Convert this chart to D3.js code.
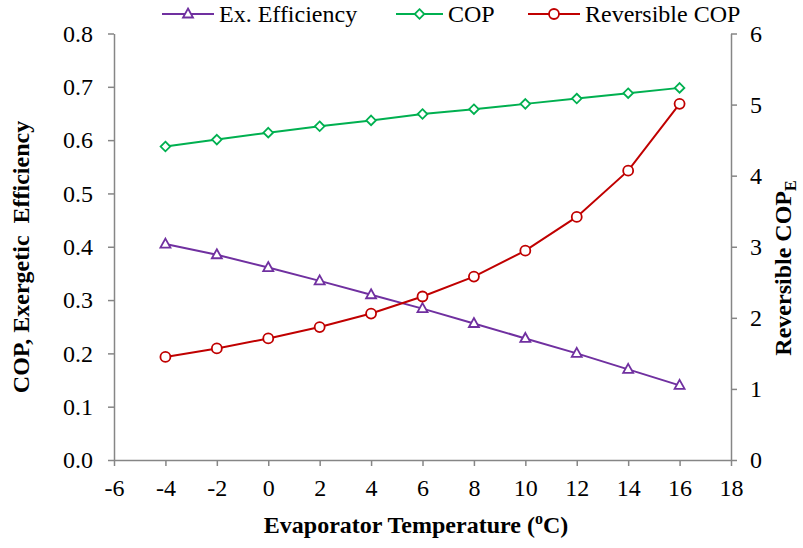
<!DOCTYPE html>
<html>
<head>
<meta charset="utf-8">
<script src="https://cdn.jsdelivr.net/npm/d3@7/dist/d3.min.js"></script>
<style>
  body { margin: 0; background: #fff; }
</style>
</head>
<body>
<svg id="chart" width="803" height="548"></svg>
<script>
// Evaporator temperature (°C)
const temps = [-4, -2, 0, 2, 4, 6, 8, 10, 12, 14, 16];
// Series on the left axis
const exEfficiency = [0.405, 0.385, 0.361, 0.336, 0.310, 0.284, 0.256, 0.228, 0.200, 0.170, 0.140];
const cop = [0.588, 0.601, 0.614, 0.626, 0.637, 0.649, 0.658, 0.668, 0.678, 0.688, 0.698];
// Series on the right axis
const reversibleCop = [1.45, 1.57, 1.71, 1.87, 2.06, 2.30, 2.58, 2.945, 3.42, 4.07, 5.01];

const xTicks = [-6, -4, -2, 0, 2, 4, 6, 8, 10, 12, 14, 16, 18];
const yLeftTicks = [0, 0.1, 0.2, 0.3, 0.4, 0.5, 0.6, 0.7, 0.8];
const yRightTicks = [0, 1, 2, 3, 4, 5, 6];

const FONT = "Liberation Serif";
const FS = 24;
const svg = d3.select("#chart");
const plotLeft = 114, plotRight = 731, plotTop = 33.5, plotBottom = 460;
const axisColor = "#868686";

const x = d3.scaleLinear().domain([-6, 18]).range([plotLeft, plotRight]);
const yL = d3.scaleLinear().domain([0, 0.8]).range([plotBottom, plotTop]);
const yR = d3.scaleLinear().domain([0, 6]).range([plotBottom, plotTop]);

function styleAxis(g) {
  g.attr("font-family", FONT).attr("font-size", FS);
  g.select(".domain").attr("stroke", axisColor).attr("stroke-width", 1.5);
  g.selectAll(".tick line").attr("stroke", axisColor).attr("stroke-width", 1.5);
  g.selectAll(".tick text").attr("fill", "#000").attr("font-family", FONT);
}

svg.append("g")
  .attr("transform", `translate(0,${plotBottom})`)
  .call(d3.axisBottom(x).tickValues(xTicks).tickSize(6).tickSizeOuter(0).tickPadding(13).tickFormat(d => String(d)))
  .call(styleAxis);

svg.append("g")
  .attr("transform", `translate(${plotLeft},0)`)
  .call(d3.axisLeft(yL).tickValues(yLeftTicks).tickSize(6).tickSizeOuter(0).tickPadding(15).tickFormat(d => d.toFixed(1)))
  .call(styleAxis);

svg.append("g")
  .attr("transform", `translate(${plotRight},0)`)
  .call(d3.axisRight(yR).tickValues(yRightTicks).tickSize(6).tickSizeOuter(0).tickPadding(13).tickFormat(d => String(d)))
  .call(styleAxis);

// Series definitions
const series = [
  { name: "Ex. Efficiency", values: exEfficiency, y: yL, color: "#7030A0", symbol: "triangle" },
  { name: "COP", values: cop, y: yL, color: "#00B050", symbol: "diamond" },
  { name: "Reversible COP", values: reversibleCop, y: yR, color: "#C00000", symbol: "circle" }
];

function drawMarker(g, type, color) {
  if (type === "triangle") {
    g.append("path").attr("d", "M0,-5.5 L5,3.5 L-5,3.5 Z");
  } else if (type === "diamond") {
    g.append("path").attr("d", "M0,-4.8 L4.8,0 L0,4.8 L-4.8,0 Z");
  } else {
    g.append("circle").attr("r", 5);
  }
  g.selectAll("path,circle").attr("fill", "#fff").attr("stroke", color).attr("stroke-width", 1.8);
}

series.forEach(s => {
  const line = d3.line().x((d, i) => x(temps[i])).y(d => s.y(d));
  svg.append("path")
    .datum(s.values)
    .attr("d", line)
    .attr("fill", "none")
    .attr("stroke", s.color)
    .attr("stroke-width", 2);
  s.values.forEach((v, i) => {
    const g = svg.append("g").attr("transform", `translate(${x(temps[i])},${s.y(v)})`);
    drawMarker(g, s.symbol, s.color);
  });
});

// Legend
const legendItems = [
  { s: series[0], x0: 162, x1: 214, tx: 219 },
  { s: series[1], x0: 396, x1: 443, tx: 448 },
  { s: series[2], x0: 528, x1: 580, tx: 585 }
];
const ly = 14;
legendItems.forEach(it => {
  svg.append("line").attr("x1", it.x0).attr("x2", it.x1).attr("y1", ly).attr("y2", ly)
    .attr("stroke", it.s.color).attr("stroke-width", 2);
  const g = svg.append("g").attr("transform", `translate(${(it.x0 + it.x1) / 2},${ly})`);
  drawMarker(g, it.s.symbol, it.s.color);
  svg.append("text").attr("x", it.tx).attr("y", 22)
    .attr("font-family", FONT).attr("font-size", FS).text(it.s.name);
});

// Axis titles
const xt = svg.append("text")
  .attr("x", 416).attr("y", 533)
  .attr("text-anchor", "middle")
  .attr("font-family", FONT).attr("font-size", FS).attr("font-weight", "bold");
xt.append("tspan").text("Evaporator Temperature (");
xt.append("tspan").attr("dy", -9).attr("font-size", 16).text("o");
xt.append("tspan").attr("dy", 9).text("C)");

svg.append("text")
  .attr("transform", `translate(29,257) rotate(-90)`)
  .attr("text-anchor", "middle")
  .attr("font-family", FONT).attr("font-size", FS).attr("font-weight", "bold")
  .style("white-space", "pre")
  .text("COP, Exergetic  Efficiency");

const rt = svg.append("text")
  .attr("transform", `translate(791,268) rotate(-90)`)
  .attr("text-anchor", "middle")
  .attr("font-family", FONT).attr("font-size", FS).attr("font-weight", "bold");
rt.append("tspan").text("Reversible COP");
rt.append("tspan").attr("dy", 5).attr("font-size", 16).text("E");
</script>
</body>
</html>
